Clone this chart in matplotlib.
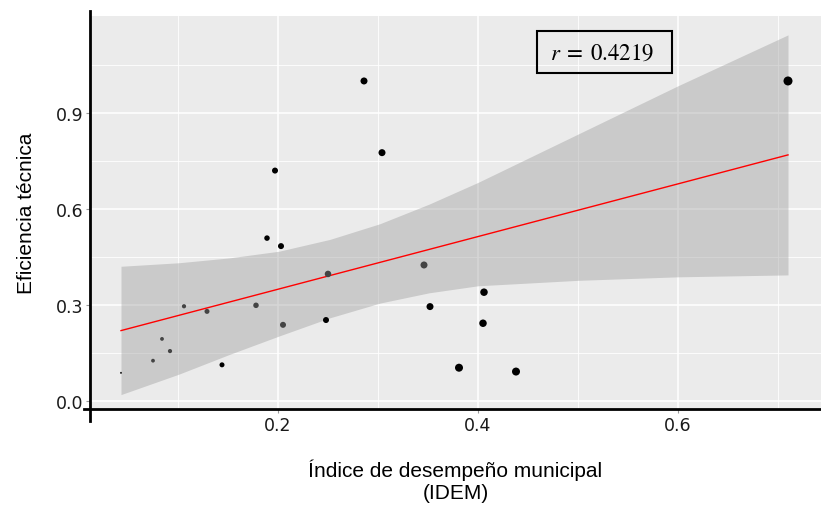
import numpy as np
import matplotlib
matplotlib.use("Agg")
import matplotlib.pyplot as plt
from matplotlib.patches import Rectangle

# IDEM vs technical efficiency
idem = [0.043, 0.075, 0.084, 0.092, 0.106, 0.129, 0.144, 0.178, 0.189, 0.197,
        0.203, 0.205, 0.248, 0.250, 0.286, 0.304, 0.346, 0.352, 0.381, 0.405,
        0.406, 0.438, 0.710]
eficiencia = [0.088, 0.126, 0.194, 0.156, 0.296, 0.280, 0.113, 0.299, 0.509, 0.720,
              0.484, 0.238, 0.253, 0.397, 1.000, 0.776, 0.425, 0.295, 0.104, 0.243,
              0.340, 0.092, 1.000]
# point diameter in pixels and shade, as seen in the picture
diam_px = [2, 3.8, 3.8, 4.2, 4.2, 5, 5, 5.5, 5.5, 6,
           6, 6, 6, 6.5, 7, 7, 7, 7, 8, 7.5,
           7.5, 8, 9]
shade = ['#222222', '#444444', '#444444', '#444444', '#444444', '#444444', 'black', '#444444', 'black', 'black',
         'black', '#444444', 'black', '#444444', 'black', 'black', '#444444', 'black', 'black', 'black',
         'black', 'black', 'black']

# fitted line and 95% band
fit_x = [0.043, 0.710]
fit_y = [0.220, 0.769]
band_x = [0.043, 0.101, 0.151, 0.201, 0.252, 0.302, 0.351, 0.400, 0.500, 0.600, 0.710]
band_hi = [0.421, 0.432, 0.447, 0.468, 0.505, 0.554, 0.615, 0.683, 0.834, 0.985, 1.144]
band_lo = [0.020, 0.084, 0.145, 0.203, 0.260, 0.306, 0.338, 0.360, 0.377, 0.388, 0.394]

r_text = r'$r\;=\;0.4219$'

plt.rcParams['mathtext.fontset'] = 'stix'

fig = plt.figure(figsize=(8.21, 5.10), dpi=100)
ax = fig.add_axes([90 / 821, 100 / 510, 731 / 821, 393 / 510])
ax.set_facecolor('#ebebeb')

ax.set_xlim(0.012, 0.743)
ax.set_ylim(-0.025, 1.203)
ax.set_xticks([0.2, 0.4, 0.6])
ax.set_xticks([0.1, 0.3, 0.5, 0.7], minor=True)
ax.set_yticks([0.0, 0.3, 0.6, 0.9])
ax.set_yticks([0.15, 0.45, 0.75, 1.05], minor=True)
ax.set_xticklabels(['0.2', '0.4', '0.6'])
ax.set_yticklabels(['0.0', '0.3', '0.6', '0.9'])
ax.grid(True, which='major', color='white', lw=1.1)
ax.grid(True, which='minor', color='white', lw=0.6)
ax.set_axisbelow(True)
ax.tick_params(which='major', length=3, color='#999999', labelsize=12.5, labelcolor='#1a1a1a', pad=2)
ax.tick_params(which='minor', length=0)

for sp in ax.spines.values():
    sp.set_visible(False)
# axis lines drawn a bit past the panel, as in the reference
ax.plot([0, 0], [-0.03, 1.013], transform=ax.transAxes, color='black', lw=2, clip_on=False, zorder=5)
ax.plot([-0.008, 1], [0, 0], transform=ax.transAxes, color='black', lw=2, clip_on=False, zorder=5)

ax.fill_between(band_x, band_lo, band_hi, color='#999999', alpha=0.4, lw=0, zorder=2)
ax.plot(fit_x, fit_y, color='red', lw=1, zorder=3)

sizes = [(0.72 * d) ** 2 for d in diam_px]
ax.scatter(idem, eficiencia, s=sizes, c=shade, lw=0, zorder=4)

# annotation box
ax.add_patch(Rectangle((0.459, 1.025), 0.135, 0.131, fill=False, ec='black', lw=1.5, zorder=6))
ax.text(0.5237, 1.091, r_text, fontsize=16.5, ha='center', va='center', zorder=6)

ax.set_xlabel('Índice de desempeño municipal\n(IDEM)', fontsize=15,
              family='Liberation Sans', labelpad=18, linespacing=1.15)
ax.set_ylabel('Eficiencia técnica', fontsize=15, family='Liberation Sans', labelpad=14)

fig.savefig('out.png', dpi=100)
